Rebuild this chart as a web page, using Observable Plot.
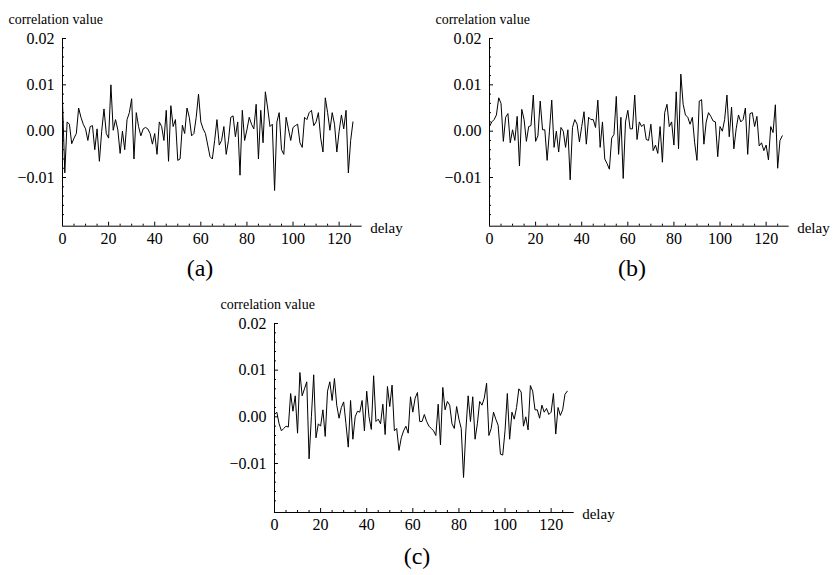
<!DOCTYPE html>
<html><head><meta charset="utf-8">
<script src="https://cdn.jsdelivr.net/npm/d3@7"></script>
<script src="https://cdn.jsdelivr.net/npm/@observablehq/plot@0.6"></script>
<style>
body{margin:0;background:#fff;}
#wrap{position:relative;width:833px;height:575px;overflow:hidden;font-family:"Liberation Serif","Times New Roman",Times,"DejaVu Serif",serif;color:#000;}
.panel{position:absolute;width:420px;}
.panel svg{max-width:none !important;}
.tag{position:absolute;font-size:24px;line-height:1;transform:translate(-50%,-50%);white-space:nowrap;}
</style></head><body>
<div id="wrap"></div>
<script>
// ---- data ----
const valuesA = [
 0.0065,-0.009,0.002,0.0015,-0.0027,-0.0015,-0.0005,0.005,0.003,0.0015,
 0.0005,-0.002,0.001,0.0012,-0.004,0.0005,-0.0065,0.0,0.0048,-0.0005,
 -0.0015,0.010,0.0002,0.0025,0.0003,-0.0048,0.0,-0.004,0.0025,0.004,
 0.007,-0.006,0.004,0.001,-0.001,0.0005,0.0008,0.0005,-0.0005,-0.0028,
 -0.0005,-0.005,0.002,0.001,-0.002,0.0045,-0.0065,0.0055,0.001,0.0025,
 -0.0063,-0.006,0.0013,-0.0005,0.005,0.003,-0.001,-0.0005,0.003,0.008,
 0.002,0.0005,-0.0005,-0.003,-0.0055,-0.006,-0.002,0.0025,-0.003,-0.002,
 0.001,-0.005,-0.002,0.003,0.0033,-0.0012,0.002,-0.0095,0.0045,-0.002,
 0.0003,0.003,0.0015,0.0005,0.0058,-0.006,0.0045,-0.0025,0.0085,0.005,
 0.001,0.0015,-0.0128,0.002,0.004,-0.004,-0.005,0.003,0.0005,-0.002,
 0.0008,0.0012,0.0015,-0.0025,-0.0035,0.003,0.0025,0.004,0.0045,0.0012,
 0.002,0.004,-0.0015,-0.0045,0.0072,0.004,0.0002,0.004,0.0015,-0.0045,
 0.0,0.0035,0.0005,0.0045,-0.009,-0.002,0.002
];
const valuesB = [
 0.001,0.002,0.0025,0.0035,0.0072,0.006,-0.0022,0.003,0.0038,-0.0025,
 0.0003,-0.002,0.0032,-0.0075,0.0047,0.0025,-0.0022,0.001,0.0012,0.0078,
 -0.0022,-0.001,0.0065,0.0003,0.0003,-0.0063,0.0,0.0067,-0.0035,0.0,
 -0.0045,0.0008,0.0,-0.0035,0.0003,-0.0105,0.0008,0.0025,0.0015,-0.0023,
 0.001,0.0042,-0.0028,0.003,0.0025,0.0025,0.0008,0.0067,-0.0035,0.002,
 -0.006,-0.007,-0.0082,-0.0015,-0.0007,0.0075,-0.005,0.003,-0.0102,0.002,
 0.0045,0.0005,0.0005,0.0078,-0.0018,0.002,0.001,0.0015,-0.0018,-0.002,
 0.0015,-0.0042,-0.003,-0.0048,0.001,-0.0067,0.004,0.0058,0.001,0.002,
 -0.003,0.0085,-0.0038,0.0123,0.0058,0.0035,0.003,0.0015,0.003,-0.0025,
 -0.0063,0.0065,0.0068,-0.0028,0.002,0.004,0.0032,0.0022,0.002,-0.0055,
 0.001,0.0,0.0025,0.0078,-0.0012,0.0052,-0.0038,0.0005,0.0035,0.002,
 0.0025,0.005,-0.005,0.0038,0.004,0.001,0.0032,-0.0032,-0.0025,-0.0042,
 -0.003,-0.0062,0.001,-0.0003,0.0057,-0.008,-0.002,-0.001
];
const valuesC = [
 0.0005,0.001,-0.0015,-0.003,-0.0025,-0.002,-0.0022,0.005,0.0012,0.0045,
 -0.0035,0.0095,0.0045,0.006,0.0075,-0.009,0.0,0.009,-0.0045,-0.0015,
 -0.002,0.0015,-0.0042,0.0055,0.0075,0.0035,0.0082,0.0025,-0.0003,0.002,
 0.0032,-0.0015,-0.0065,0.0035,-0.0048,0.0,0.0012,0.001,0.0035,-0.003,
 0.0055,0.0,-0.0027,0.0088,-0.001,-0.0005,-0.0015,0.0027,-0.0038,0.0065,
 0.0022,0.0068,-0.003,-0.0025,-0.0072,-0.0045,-0.003,-0.002,-0.0035,0.0043,
 0.001,0.004,0.0052,-0.001,-0.001,0.0005,-0.001,-0.002,-0.0025,-0.003,
 -0.004,0.0027,-0.006,0.0063,0.0015,0.0033,0.0025,-0.0015,-0.0025,0.0022,
 -0.0005,-0.0025,-0.013,-0.003,0.0045,-0.001,0.0043,-0.0048,-0.0015,0.0033,
 0.0025,0.004,0.0072,-0.004,-0.0025,0.001,-0.0005,-0.0018,-0.008,-0.0082,
 -0.003,0.005,-0.0048,0.001,-0.0005,0.002,0.006,0.0053,-0.002,0.0,
 -0.0028,0.0067,0.0055,0.0015,0.0015,-0.0003,0.0025,0.001,0.0018,0.0005,
 0.001,0.005,-0.0037,0.002,0.0003,0.0015,0.0048,0.0055
];
const xMajor = [0, 20, 40, 60, 80, 100, 120];
const xMinor = [5, 10, 15, 25, 30, 35, 45, 50, 55, 65, 70, 75, 85, 90, 95, 105, 110, 115, 125];
const yMajor = [-0.01, 0.00, 0.01, 0.02];
const yMinor = [-0.018, -0.016, -0.014, -0.012, -0.008, -0.006, -0.004, -0.002,
                0.002, 0.004, 0.006, 0.008, 0.012, 0.014, 0.016, 0.018];
const panelTags = ["(a)", "(b)", "(c)"];
const yTitle = "correlation value";
const xTitle = "delay";

// ---- layout ----
const serif = '"Liberation Serif","Times New Roman",Times,"DejaVu Serif",serif';
const xDomain = [0, 130];
const yDomain = [-0.0205, 0.02];
const mL = 60, mR = 60, mT = 40, mB = 34, plotW = 299.7;

function panel(values, plotH) {
  const width = mL + plotW + mR;
  const height = mT + plotH + mB;
  const kx = (xDomain[1] - xDomain[0]) / plotW;
  const ky = (yDomain[1] - yDomain[0]) / plotH;
  const data = values.map((v, i) => ({delay: i, value: v}));
  return Plot.plot({
    width, height,
    marginLeft: mL, marginRight: mR, marginTop: mT, marginBottom: mB,
    x: {domain: xDomain},
    y: {domain: yDomain},
    style: {fontFamily: serif, fontSize: "16px", color: "#000", background: "transparent", overflow: "visible"},
    marks: [
      Plot.ruleX([0], {stroke: "#000", strokeWidth: 1}),
      Plot.ruleY([yDomain[0]], {stroke: "#000", strokeWidth: 1}),
      Plot.ruleX(xMajor, {x: d => d, y1: yDomain[0], y2: yDomain[0] + 4 * ky, stroke: "#000"}),
      Plot.ruleX(xMinor, {x: d => d, y1: yDomain[0], y2: yDomain[0] + 2 * ky, stroke: "#000"}),
      Plot.ruleY(yMajor, {y: d => d, x1: 0, x2: 4 * kx, stroke: "#000"}),
      Plot.ruleY(yMinor, {y: d => d, x1: 0, x2: 2 * kx, stroke: "#000"}),
      Plot.axisX({ticks: xMajor, tickSize: 0, tickPadding: 6, tickFormat: d3.format("d"), label: null, fontSize: 16, fontFamily: serif}),
      Plot.axisY({ticks: yMajor, tickSize: 0, tickPadding: 8, tickFormat: d3.format(".2f"), label: null, fontSize: 16, fontFamily: serif}),
      Plot.line(data, {x: "delay", y: "value", stroke: "#000", strokeWidth: 1}),
      Plot.text([yTitle], {frameAnchor: "top-left", textAnchor: "start", lineAnchor: "middle", dx: -54, dy: -19, fontSize: 14, fontFamily: serif}),
      Plot.text([xTitle], {frameAnchor: "bottom-right", textAnchor: "start", lineAnchor: "middle", dx: 8, dy: 2, fontSize: 15, fontFamily: serif})
    ]
  });
}

const wrap = document.getElementById("wrap");
const panels = [
  {values: valuesA, h: 187.7, left: 1.7, top: -1.7, tag: [200, 268]},
  {values: valuesB, h: 187.7, left: 429, top: -1.7, tag: [632, 268]},
  {values: valuesC, h: 189, left: 214, top: 283.3, tag: [417, 556]}
];
panels.forEach((p, i) => {
  const div = document.createElement("div");
  div.className = "panel";
  div.style.left = p.left + "px";
  div.style.top = p.top + "px";
  div.appendChild(panel(p.values, p.h));
  wrap.appendChild(div);
  const t = document.createElement("div");
  t.className = "tag";
  t.style.left = p.tag[0] + "px";
  t.style.top = p.tag[1] + "px";
  t.textContent = panelTags[i];
  wrap.appendChild(t);
});
</script>
</body></html>
